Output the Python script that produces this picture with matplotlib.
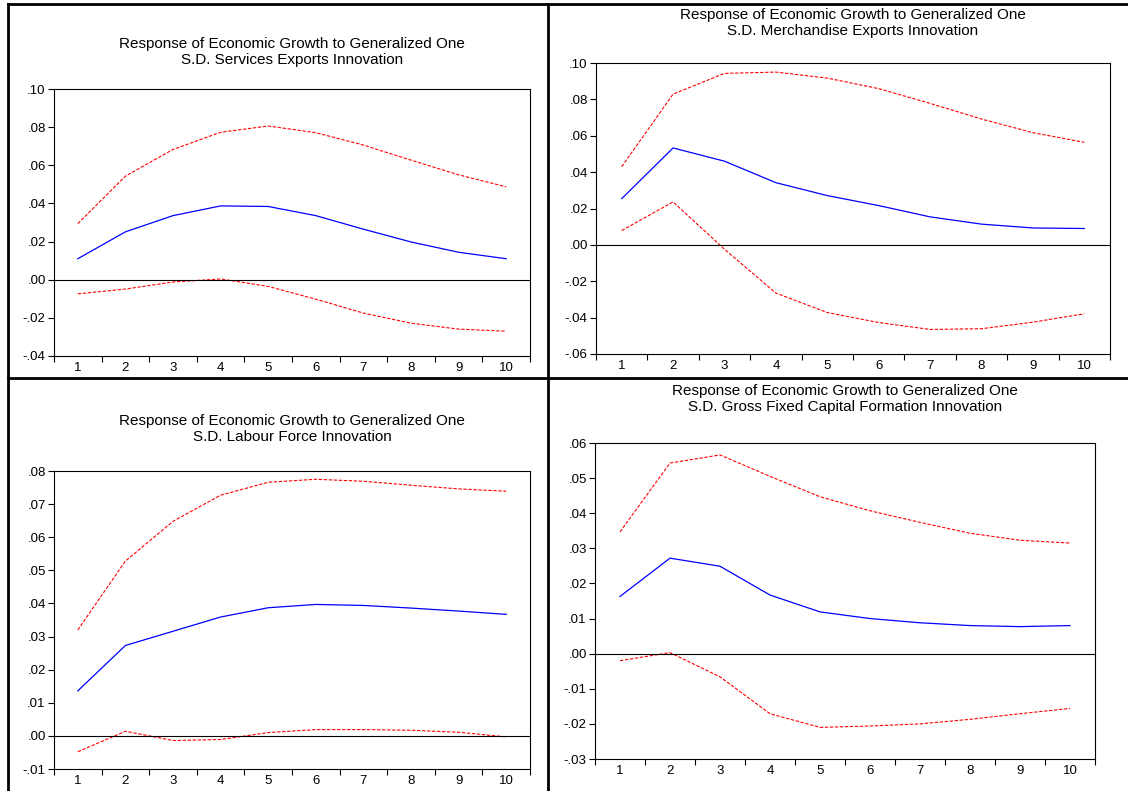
import matplotlib
matplotlib.use("Agg")
import matplotlib.pyplot as plt
from matplotlib.lines import Line2D
from matplotlib.ticker import FixedLocator, FuncFormatter, NullFormatter

plt.rcParams['font.family'] = ['Liberation Sans', 'DejaVu Sans']

periods = [1, 2, 3, 4, 5, 6, 7, 8, 9, 10]

# services exports
serv_resp = [0.0110, 0.0251, 0.0336, 0.0387, 0.0384, 0.0336, 0.0265, 0.0198, 0.0144, 0.0110]
serv_upper = [0.0294, 0.0543, 0.0683, 0.0773, 0.0806, 0.0771, 0.0706, 0.0627, 0.0550, 0.0487]
serv_lower = [-0.0074, -0.0049, -0.0012, 0.0004, -0.0035, -0.0102, -0.0175, -0.0228, -0.0259, -0.0270]

# merchandise exports
merch_resp = [0.0254, 0.0533, 0.0460, 0.0342, 0.0271, 0.0216, 0.0154, 0.0114, 0.0093, 0.0090]
merch_upper = [0.0430, 0.0829, 0.0943, 0.0950, 0.0917, 0.0859, 0.0778, 0.0692, 0.0617, 0.0564]
merch_lower = [0.0079, 0.0236, -0.0024, -0.0265, -0.0372, -0.0427, -0.0465, -0.0461, -0.0425, -0.0379]

# labour force
lab_resp = [0.0136, 0.0273, 0.0316, 0.0359, 0.0387, 0.0397, 0.0394, 0.0386, 0.0377, 0.0367]
lab_upper = [0.0320, 0.0528, 0.0648, 0.0727, 0.0766, 0.0775, 0.0769, 0.0757, 0.0746, 0.0739]
lab_lower = [-0.0048, 0.0014, -0.0014, -0.0011, 0.0010, 0.0019, 0.0019, 0.0017, 0.0011, -0.0003]

# gross fixed capital formation
gfcf_resp = [0.0163, 0.0272, 0.0249, 0.0167, 0.0119, 0.0100, 0.0088, 0.0080, 0.0077, 0.0080]
gfcf_upper = [0.0347, 0.0543, 0.0566, 0.0505, 0.0447, 0.0407, 0.0374, 0.0343, 0.0323, 0.0315]
gfcf_lower = [-0.0020, 0.0003, -0.0066, -0.0171, -0.0210, -0.0206, -0.0200, -0.0187, -0.0171, -0.0156]

titles = [
    "Response of Economic Growth to Generalized One\nS.D. Services Exports Innovation",
    "Response of Economic Growth to Generalized One\nS.D. Merchandise Exports Innovation",
    "Response of Economic Growth to Generalized One\nS.D. Labour Force Innovation",
    "Response of Economic Growth to Generalized One\nS.D. Gross Fixed Capital Formation Innovation",
]
y_ticks = [
    [-0.04, -0.02, 0.00, 0.02, 0.04, 0.06, 0.08, 0.10],
    [-0.06, -0.04, -0.02, 0.00, 0.02, 0.04, 0.06, 0.08, 0.10],
    [-0.01, 0.00, 0.01, 0.02, 0.03, 0.04, 0.05, 0.06, 0.07, 0.08],
    [-0.03, -0.02, -0.01, 0.00, 0.01, 0.02, 0.03, 0.04, 0.05, 0.06],
]
series = [
    (serv_resp, serv_upper, serv_lower),
    (merch_resp, merch_upper, merch_lower),
    (lab_resp, lab_upper, lab_lower),
    (gfcf_resp, gfcf_upper, gfcf_lower),
]

W, H = 1128, 791
# axes boxes in pixels: left, right, top, bottom ; title centre y
boxes = [
    (54, 530, 89, 356, 52),
    (596, 1110, 63, 354, 23),
    (54, 530, 471, 769, 429),
    (595, 1095, 443, 759, 399),
]

fig = plt.figure(figsize=(W / 100, H / 100), dpi=100)


def fmt(v, pos):
    s = "%.2f" % v
    return s.replace("0.", ".", 1)


for i in range(4):
    l, r, t, b, ty = boxes[i]
    ax = fig.add_axes([l / W, 1 - b / H, (r - l) / W, (b - t) / H])
    resp, up, lo = series[i]
    ax.plot(periods, up, color="red", lw=0.8, dashes=(3, 1.5))
    ax.plot(periods, lo, color="red", lw=0.8, dashes=(3, 1.5))
    ax.plot(periods, resp, color="blue", lw=0.9)
    ax.axhline(0, color="black", lw=0.8)
    yt = y_ticks[i]
    ax.set_ylim(yt[0], yt[-1])
    ax.set_xlim(0.5, 10.5)
    ax.yaxis.set_major_locator(FixedLocator(yt))
    ax.yaxis.set_major_formatter(FuncFormatter(fmt))
    ax.xaxis.set_major_locator(FixedLocator([p + 0.5 for p in [0] + periods]))
    ax.xaxis.set_major_formatter(NullFormatter())
    ax.xaxis.set_minor_locator(FixedLocator(periods))
    ax.xaxis.set_minor_formatter(FuncFormatter(lambda v, p: "%d" % v))
    ax.tick_params(axis="x", which="major", direction="out", length=4.5, width=0.8)
    ax.tick_params(axis="x", which="minor", length=0, labelsize=9.5, pad=4)
    ax.tick_params(axis="y", direction="out", length=4, width=0.8, labelsize=9.5, pad=2)
    for sp in ax.spines.values():
        sp.set_linewidth(0.8)
    fig.text((l + r) / 2 / W, 1 - ty / H, titles[i], ha="center", va="center",
             fontsize=11, linespacing=1.15)

# panel frame lines
px = lambda x: x / W
py = lambda y: 1 - y / H
frame = [
    ([px(8), px(1128)], [py(4), py(4)]),
    ([px(8), px(8)], [py(4), py(791)]),
    ([px(548), px(548)], [py(4), py(791)]),
    ([px(8), px(1128)], [py(378), py(378)]),
]
for xs, ys in frame:
    fig.add_artist(Line2D(xs, ys, color="black", lw=2, transform=fig.transFigure))

fig.savefig("out.png", dpi=100)
